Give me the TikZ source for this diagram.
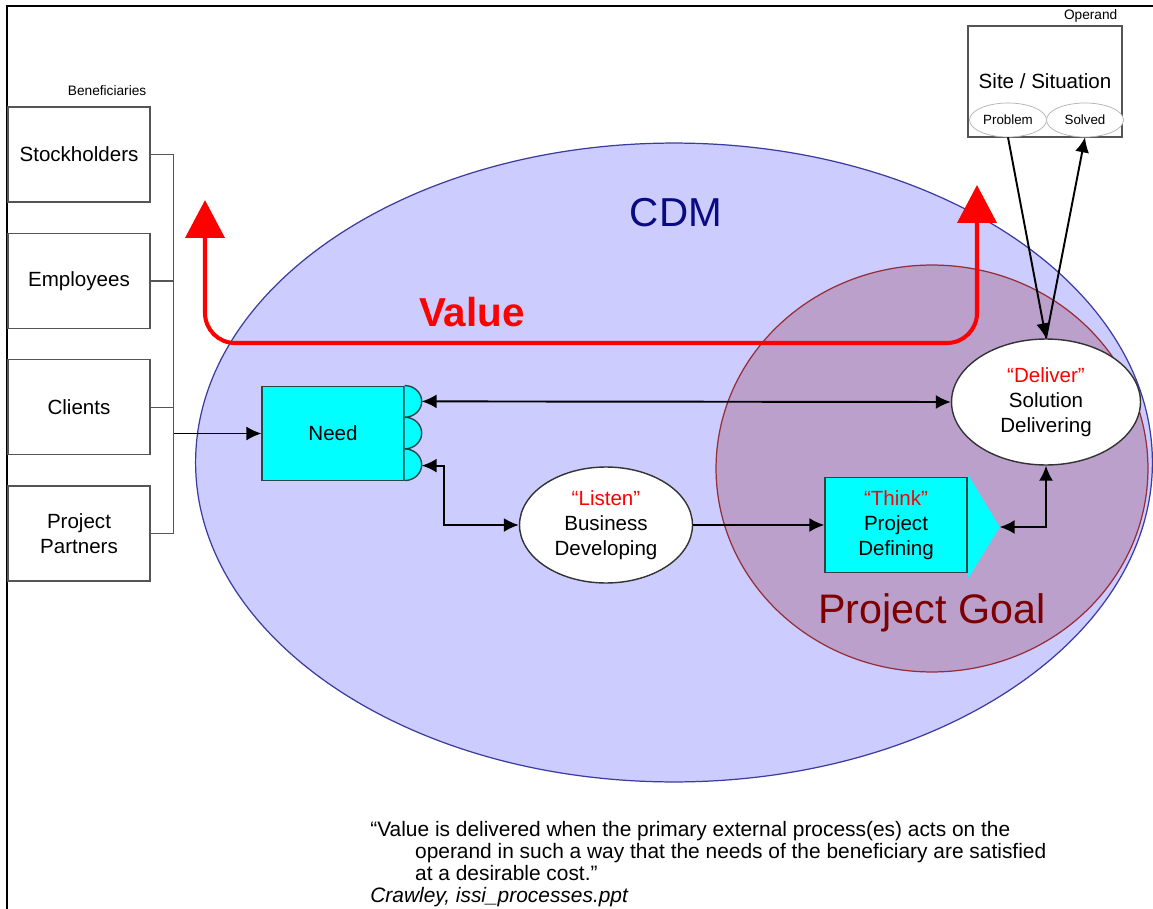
\documentclass[tikz,border=0pt]{standalone}
\usepackage{fontspec}
\setmainfont{Liberation Sans}
\usetikzlibrary{positioning,shapes.geometric,arrows.meta,calc}

\definecolor{cdmfill}{RGB}{204,204,255}
\definecolor{cdmline}{RGB}{60,60,160}
\definecolor{cdmtext}{RGB}{10,10,130}
\definecolor{goalfill}{RGB}{187,160,204}
\definecolor{goalline}{RGB}{150,45,55}
\definecolor{goaltext}{RGB}{125,0,0}
\definecolor{boxgray}{RGB}{85,85,85}
\definecolor{procfill}{RGB}{0,255,255}
\definecolor{procline}{RGB}{40,70,70}
\definecolor{valred}{RGB}{255,0,0}

\begin{document}
\begin{tikzpicture}[x=0.02cm, y=-0.02cm,
    txt/.style={font=\fontsize{11.7}{14.2}\selectfont, align=center, inner sep=0pt},
    benbox/.style={txt, draw=boxgray, line width=0.8pt, fill=white, minimum width=2.84cm, minimum height=1.9cm},
    procbox/.style={txt, draw=procline, line width=0.8pt, fill=procfill, minimum width=2.84cm, minimum height=1.89cm},
    procell/.style={txt, ellipse, draw=black!80, line width=0.8pt, fill=white},
    small/.style={font=\fontsize{7.8}{9}\selectfont, inner sep=0pt},
    wire/.style={draw=boxgray, line width=0.8pt},
    arr/.style={line width=1.1pt, -{Latex[length=0.3cm, width=0.28cm]}},
    dbl/.style={line width=1.1pt, {Latex[length=0.3cm, width=0.28cm]}-{Latex[length=0.3cm, width=0.28cm]}},
    value/.style={valred, line width=2.3pt, {Triangle[length=0.76cm, width=0.78cm]}-{Triangle[length=0.76cm, width=0.78cm]}}]
    \useasboundingbox (0,0) rectangle (1153,909);

    % frame
    \draw[line width=1.5pt] (7,909) -- (7,6) -- (1153,6);

    % the two areas
    \filldraw[fill=cdmfill, draw=cdmline, line width=0.7pt] (674,462.5) ellipse [x radius=9.57cm, y radius=6.39cm];
    \filldraw[fill=goalfill, draw=goalline, line width=0.7pt] (932,468.5) ellipse [x radius=4.32cm, y radius=4.07cm];
    \node[font=\fontsize{23}{26}\selectfont, text=cdmtext] (cdm) at (676,213) {CDM};
    \node[font=\fontsize{23.5}{26}\selectfont, text=goaltext] (goal) at (932,613) {Project Goal};

    % value
    \coordinate (valL) at (205,200);
    \coordinate (valBL) at (205,343);
    \coordinate (valBR) at (977,343);
    \coordinate (valR) at (977,185);
    \draw[value, rounded corners=0.6cm] (valL) -- (valBL) -- (valBR) -- (valR);
    \node[font=\fontsize{23}{26}\selectfont\bfseries, text=valred] (valtxt) at (472,312) {Value};

    % beneficiaries
    \node[benbox] (stk) at (79,154.5) {Stockholders};
    \node[benbox, below=0.6cm of stk] (emp) {Employees};
    \node[benbox, below=0.6cm of emp] (cli) {Clients};
    \node[benbox, below=0.6cm of cli] (ptn) {Project\\Partners};
    \node[small, anchor=south east] (benlbl) at ($(stk.north east)+(-4,-10)$) {Beneficiaries};

    \node[procbox] (need) at (333,433.5) {Need};
    \filldraw[fill=procfill, draw=procline, line width=0.8pt] (need.north east)
        arc[start angle=90, end angle=-90, x radius=0.34cm, y radius=0.3167cm]
        arc[start angle=90, end angle=-90, x radius=0.34cm, y radius=0.3167cm]
        arc[start angle=90, end angle=-90, x radius=0.34cm, y radius=0.3167cm];
    \coordinate (bumpA) at ($(need.north east)+(17,15.83)$);
    \coordinate (bumpC) at ($(need.south east)+(17,-15.83)$);

    \coordinate (busT) at ($(stk.east)+(23,0)$);
    \coordinate (busB) at ($(ptn.east)+(23,0)$);
    \draw[wire] (stk.east) -- (busT) -- (busB) -- (ptn.east);
    \draw[wire] (emp.east) -- (emp.east -| busT);
    \draw[wire] (cli.east) -- (cli.east -| busT);
    \draw[arr, line width=0.8pt] (busT |- need.west) -- (need.west);

    % processes
    \node[procell, minimum width=3.46cm, minimum height=2.32cm] (listen) at (606,525)
        {\textcolor{valred}{“Listen”}\\Business\\Developing};
    \node[procbox] (think) at (896,525) {\textcolor{valred}{“Think”}\\Project\\Defining};
    \coordinate (thinkA) at ($(think.north east)+(0,-3)$);
    \coordinate (thinktip) at ($(think.east)+(32,2)$);
    \coordinate (thinkB) at ($(think.south east)+(0,6)$);
    \fill[procfill] (thinkA) -- (thinktip) -- (thinkB) -- cycle;
    \draw[procline, line width=0.8pt] (think.north east) -- (think.south east);
    \node[procell, minimum width=3.78cm, minimum height=2.52cm] (deliver) at (1046,402)
        {\textcolor{valred}{“Deliver”}\\Solution\\Delivering};

    \draw[dbl] (bumpA) -- (deliver.west);
    \draw[dbl] (bumpC) -- ++(22,0) |- (listen.west);
    \draw[arr] (listen.east) -- (think.west);
    \draw[dbl] (thinktip) -| (deliver.south);

    % operand
    \node[draw=boxgray, line width=0.8pt, fill=white, minimum width=3.08cm, minimum height=2.22cm,
        font=\fontsize{11.7}{14.2}\selectfont] (site) at (1045,81.5) {Site / Situation};
    \node[small, anchor=south east] (oplbl) at ($(site.north east)+(-5,-3)$) {Operand};
    \node[ellipse, draw=black!30, fill=white, minimum width=1.54cm, minimum height=0.68cm, inner sep=0pt,
        font=\fontsize{7.6}{9}\selectfont] (problem) at (1008,120) {Problem};
    \node[ellipse, draw=black!30, fill=white, minimum width=1.54cm, minimum height=0.68cm, inner sep=0pt,
        font=\fontsize{7.6}{9}\selectfont] (solved) at (1085,120) {Solved};
    \draw[arr] (problem.south) -- (deliver.north);
    \draw[arr] (deliver.north) -- (solved.south);

    % quote
    \node[anchor=west, align=left, inner sep=0pt, font=\fontsize{11.9}{12.4}\selectfont] (quote) at (370,864)
        {“Value is delivered when the primary external process(es) acts on the\\
         \hspace*{25.5pt}operand in such a way that the needs of the beneficiary are satisfied\\
         \hspace*{25.5pt}at a desirable cost.”\\
         \textit{Crawley, issi\_processes.ppt}};
\end{tikzpicture}
\end{document}
